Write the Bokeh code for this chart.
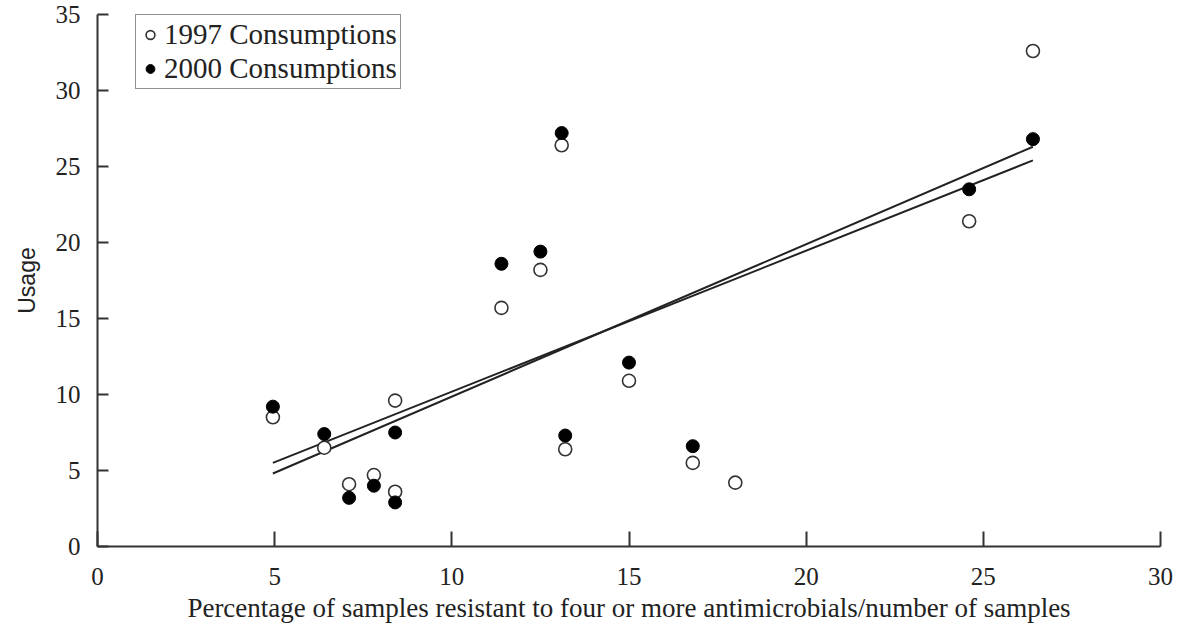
from bokeh.plotting import figure
from bokeh.models import Legend, LegendItem, Range1d, FixedTicker
from bokeh.embed import file_html
from bokeh.resources import INLINE

# 1997 consumptions (open circles)
x_1997 = [4.95, 6.4, 7.1, 7.8, 8.4, 8.4, 11.4, 12.5, 13.1, 13.2, 15.0, 16.8, 18.0, 24.6, 26.4]
y_1997 = [8.5, 6.5, 4.1, 4.7, 9.6, 3.6, 15.7, 18.2, 26.4, 6.4, 10.9, 5.5, 4.2, 21.4, 32.6]

# 2000 consumptions (filled circles)
x_2000 = [4.95, 6.4, 7.1, 7.8, 8.4, 8.4, 11.4, 12.5, 13.1, 13.2, 15.0, 16.8, 24.6, 26.4]
y_2000 = [9.2, 7.4, 3.2, 4.0, 7.5, 2.9, 18.6, 19.4, 27.2, 7.3, 12.1, 6.6, 23.5, 26.8]

# fitted regression lines (end points)
fit_x = [4.95, 26.4]
fit_1997 = [4.8, 26.3]
fit_2000 = [5.5, 25.4]

x_ticks = [0, 5, 10, 15, 20, 25, 30]
y_ticks = [0, 5, 10, 15, 20, 25, 30, 35]

SERIF = "Liberation Serif"
SANS = "Liberation Sans"

p = figure(width=1180, height=625, output_backend="svg", toolbar_location=None,
           x_range=Range1d(0, 30), y_range=Range1d(0, 35),
           min_border_left=97, min_border_right=20, min_border_top=14, min_border_bottom=79)
p.outline_line_color = None
p.grid.visible = False

for ax in (p.xaxis[0], p.yaxis[0]):
    ax.axis_line_color = "#333333"
    ax.axis_line_width = 2
    ax.major_tick_line_color = "#333333"
    ax.major_tick_line_width = 2
    ax.major_tick_out = 0
    ax.minor_tick_line_color = None
    ax.major_label_text_font = SERIF
    ax.major_label_text_font_size = "25px"
    ax.major_label_text_color = "#222222"
    ax.axis_label_text_font_style = "normal"
    ax.axis_label_text_color = "#222222"

p.xaxis.ticker = FixedTicker(ticks=x_ticks)
p.yaxis.ticker = FixedTicker(ticks=y_ticks)
p.xaxis.major_tick_in = 15
p.yaxis.major_tick_in = 11
p.xaxis.major_label_standoff = 21
p.yaxis.major_label_standoff = 17

p.xaxis.axis_label = "Percentage of samples resistant to four or more antimicrobials/number of samples"
p.xaxis.axis_label_text_font = SERIF
p.xaxis.axis_label_text_font_size = "27px"
p.xaxis.axis_label_standoff = 5

p.yaxis.axis_label = "Usage"
p.yaxis.axis_label_text_font = SANS
p.yaxis.axis_label_text_font_size = "23px"
p.yaxis.axis_label_standoff = 13

p.line(fit_x, fit_1997, line_color="#222222", line_width=2)
p.line(fit_x, fit_2000, line_color="#222222", line_width=2)

r97 = p.scatter(x_1997, y_1997, marker="circle", size=13, fill_color="white",
                line_color="#333333", line_width=1.6)
r00 = p.scatter(x_2000, y_2000, marker="circle", size=13, fill_color="black",
                line_color="black", line_width=1)

legend = Legend(items=[LegendItem(label="1997 Consumptions", renderers=[r97]),
                       LegendItem(label="2000 Consumptions", renderers=[r00])],
                location=(38, 457))
legend.border_line_color = "#222222"
legend.border_line_width = 1.5
legend.label_text_font = SERIF
legend.label_text_font_size = "29px"
legend.label_text_color = "#222222"
legend.glyph_width = 22
legend.glyph_height = 29
legend.label_height = 29
legend.spacing = 1
legend.padding = 3
legend.label_standoff = 3
legend.background_fill_alpha = 1
p.add_layout(legend)

open("out.html", "w").write(file_html(p, INLINE))
